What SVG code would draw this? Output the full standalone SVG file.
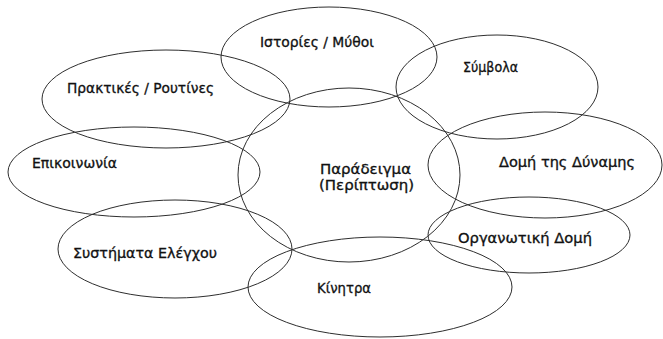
<svg xmlns="http://www.w3.org/2000/svg" width="663" height="339" viewBox="0 0 663 339">
<style>
.e{fill:none;stroke:#2e2e2e;stroke-width:1}
.t{font-family:"DejaVu Sans","Liberation Sans",sans-serif;font-size:13.5px;fill:#111;stroke:#111;stroke-width:0.3}
</style>
<rect width="663" height="339" fill="#fff"/>
<g id="center"><ellipse class="e" cx="349" cy="175" rx="111" ry="87"/>
<text class="t" x="320" y="174" textLength="91" lengthAdjust="spacingAndGlyphs">Παράδειγμα</text>
<text class="t" x="319" y="190" textLength="95" lengthAdjust="spacingAndGlyphs">(Περίπτωση)</text></g>
<g id="istories"><ellipse class="e" cx="329" cy="57" rx="108" ry="50"/>
<text class="t" x="260" y="47" textLength="114" lengthAdjust="spacingAndGlyphs">Ιστορίες / Μύθοι</text></g>
<g id="praktikes"><ellipse class="e" cx="166" cy="99" rx="124" ry="49"/>
<text class="t" x="67" y="93" textLength="147" lengthAdjust="spacingAndGlyphs">Πρακτικές / Ρουτίνες</text></g>
<g id="symvola"><ellipse class="e" cx="497" cy="87" rx="101" ry="52"/>
<text class="t" x="463" y="72" textLength="55" lengthAdjust="spacingAndGlyphs">Σύμβολα</text></g>
<g id="domi-dynamis"><ellipse class="e" cx="545" cy="165" rx="117" ry="53"/>
<text class="t" x="499" y="167" textLength="136" lengthAdjust="spacingAndGlyphs">Δομή της Δύναμης</text></g>
<g id="epikoinonia"><ellipse class="e" cx="134" cy="172" rx="126" ry="45"/>
<text class="t" x="32" y="168" textLength="85" lengthAdjust="spacingAndGlyphs">Επικοινωνία</text></g>
<g id="systimata"><ellipse class="e" cx="175" cy="249" rx="117" ry="49"/>
<text class="t" x="73" y="258" textLength="144" lengthAdjust="spacingAndGlyphs">Συστήματα Ελέγχου</text></g>
<g id="organotiki"><ellipse class="e" cx="529" cy="235" rx="101" ry="38"/>
<text class="t" x="458" y="243" textLength="134" lengthAdjust="spacingAndGlyphs">Οργανωτική Δομή</text></g>
<g id="kinitra"><ellipse class="e" cx="380" cy="287" rx="132" ry="50"/>
<text class="t" x="317" y="293" textLength="54" lengthAdjust="spacingAndGlyphs">Κίνητρα</text></g>
<g id="connectors"></g>
</svg>
